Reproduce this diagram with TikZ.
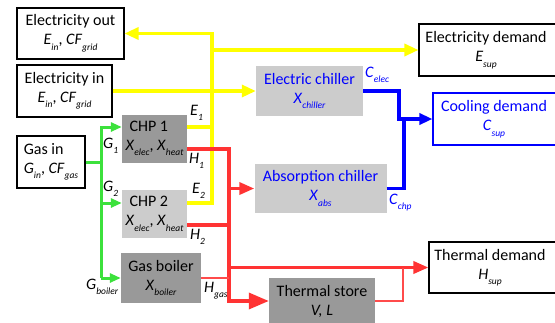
\documentclass[tikz,border=0pt]{standalone}
\usepackage{fontspec}
\setmainfont{Carlito}
\usetikzlibrary{arrows.meta}
\definecolor{yel}{RGB}{255,255,0}
\definecolor{rd}{RGB}{255,51,51}
\definecolor{rdl}{RGB}{255,75,75}
\definecolor{gr}{RGB}{60,225,60}
\definecolor{bl}{RGB}{0,0,255}
\definecolor{dg}{RGB}{153,153,153}
\definecolor{lg}{RGB}{204,204,204}
\newcommand{\sbs}[1]{\raisebox{-5.5pt}{\fontsize{9.5}{10}\selectfont\itshape #1}}
\newcommand{\vr}[1]{\textit{#1}}
\begin{document}
\begin{tikzpicture}[x=1pt,y=-1pt,
  font=\fontsize{16}{19}\selectfont,
  wbox/.style 2 args={draw=black, line width=1.1pt, fill=white, inner sep=0pt, align=center, minimum width=#1, minimum height=#2},
  dbox/.style 2 args={fill=dg, inner sep=0pt, align=center, minimum width=#1, minimum height=#2},
  lbox/.style 2 args={fill=lg, inner sep=0pt, align=center, minimum width=#1, minimum height=#2},
  lbl/.style={inner sep=0pt, anchor=base west},
  yl/.style={draw=yel, line width=3.2pt},
  rl/.style={draw=rd, line width=3.4pt},
  rthin/.style={draw=rdl, line width=2.6pt},
  gl/.style={draw=gr, line width=3pt},
  bll/.style={draw=bl, line width=3.6pt},
  yarr/.style={-{Triangle[length=14pt,width=12pt]}},
  rarr/.style={-{Triangle[length=15pt,width=12pt]}},
  rbig/.style={-{Triangle[length=20pt,width=16pt]}},
  garr/.style={-{Triangle[length=11pt,width=9pt]}},
  barr/.style={-{Triangle[length=13pt,width=11pt]}}
]
\useasboundingbox (0,0) rectangle (555,322);
\clip (0,0) rectangle (555,322);
\fill[white] (0,0) rectangle (555,322);

% boxes
\node[wbox={107pt}{51pt}] (eout) at (70.5,33.5) {Electricity out\\\vr{E}\sbs{in}, \vr{CF}\sbs{grid}};
\node[wbox={95pt}{52pt}] (ein) at (64.5,91) {Electricity in\\\vr{E}\sbs{in}, \vr{CF}\sbs{grid}};
\node[wbox={68pt}{52pt}, align=left] (gasin) at (51,162) {Gas in\\\vr{G}\sbs{in}, \vr{CF}\sbs{gas}};
\node[dbox={65pt}{48pt}, align=left] (chp1) at (154.5,138.5) {\hspace{4pt}CHP 1\\\vr{X}\sbs{elec}, \vr{X}\sbs{heat}};
\node[lbox={65pt}{48pt}, align=left] (chp2) at (154.5,214) {\hspace{4pt}CHP 2\\\vr{X}\sbs{elec}, \vr{X}\sbs{heat}};
\node[dbox={80pt}{50pt}] (boiler) at (161,278) {Gas boiler\\\vr{X}\sbs{boiler}};
\node[lbox={107pt}{50pt}, text=bl] (echill) at (309.5,91) {Electric chiller\\\vr{X}\sbs{chiller}};
\node[lbox={132pt}{49pt}, text=bl] (abs) at (320.5,188.5) {Absorption chiller\\\vr{X}\sbs{abs}};
\node[wbox={140pt}{52pt}] (edem) at (489,50) {\hspace*{-6pt}Electricity demand\\\hspace*{-6pt}\vr{E}\sbs{sup}};
\node[wbox={128pt}{52pt}, draw=bl, text=bl] (cool) at (497,119) {\hspace*{-6pt}Cooling demand\\\hspace*{-6pt}\vr{C}\sbs{sup}};
\node[wbox={132pt}{51pt}] (thd) at (495,267.5) {\hspace*{-10pt}Thermal demand\\\hspace*{-10pt}\vr{H}\sbs{sup}};
\node[dbox={106pt}{46pt}] (ts) at (322,301) {Thermal store\\\vr{V, L}};

% junction coordinates
\coordinate (yt) at (212,33.5);
\coordinate (rb) at (229,301);
\coordinate (tj) at (403,267.5);
\coordinate (b1) at (399,119);
\coordinate (b2) at (404,119);
\coordinate (gt) at (101,162);
\coordinate (e1) at ([yshift=11.5pt]chp1.east);
\coordinate (e2) at ([yshift=11pt]chp2.east);
\coordinate (h1) at ([yshift=-10.5pt]chp1.east);
\coordinate (h2) at ([yshift=-11pt]chp2.east);
\coordinate (g1) at ([yshift=11.5pt]chp1.west);
\coordinate (g2) at ([yshift=11pt]chp2.west);

% yellow
\draw[yl,yarr] (e2) -| (yt) -- (eout.east);
\draw[yl] (e1) -- (e1 -| yt);
\draw[yl,yarr] (yt |- edem.west) -- (edem.west);
\draw[yl,yarr] (ein.east) -- (echill.west);

% green
\draw[gl] (gasin.east) -- (gt);
\draw[gl,garr] (boiler.west -| gt) |- (g1);
\draw[gl,garr] (g2 -| gt) -- (g2);
\draw[gl,garr] (boiler.west -| gt) -- (boiler.west);

% red
\draw[rl,rbig] (h1) -| (rb) -- (ts.west);
\draw[rl,rarr] (rb |- abs.west) -- (abs.west);
\draw[rl] (h2) -- (h2 -| rb);
\draw[rthin] (boiler.east) -- (boiler.east -| rb);
\draw[rl,rarr] (rb |- thd.west) -- (thd.west);
\draw[rthin] (ts.east) -| (tj);

% blue
\draw[bll,barr] (echill.east) -| (b1) -- (cool.west);
\draw[bll] (abs.east) -| (b2);

% labels
\node[lbl] (lE1) at (190,115) {\vr{E}\sbs{1}};
\node[lbl] (lH1) at (189,163) {\vr{H}\sbs{1}};
\node[lbl] (lE2) at (192,193) {\vr{E}\sbs{2}};
\node[lbl] (lH2) at (190,239) {\vr{H}\sbs{2}};
\node[lbl] (lG1) at (103,148) {\vr{G}\sbs{1}};
\node[lbl] (lG2) at (103,191) {\vr{G}\sbs{2}};
\node[lbl] (lGb) at (86,289) {\vr{G}\sbs{boiler}};
\node[lbl] (lHg) at (204,292) {\vr{H}\sbs{gas}};
\node[lbl, text=bl] (lCe) at (365,77) {\vr{C}\sbs{elec}};
\node[lbl, text=bl] (lCc) at (389,204) {\vr{C}\sbs{chp}};
\end{tikzpicture}
\end{document}
